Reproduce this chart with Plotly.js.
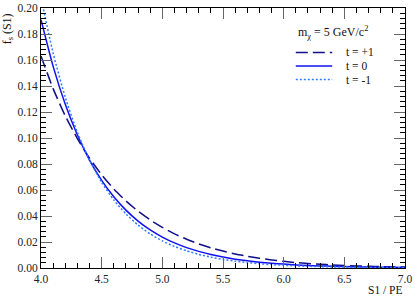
<!DOCTYPE html>
<html>
<head>
<meta charset="utf-8">
<script src="https://cdn.plot.ly/plotly-3.0.1.min.js"></script>
<style>html,body{margin:0;padding:0;background:#fff;}#chart{width:415px;height:298px;}</style>
</head>
<body>
<div id="chart"></div>
<script>
// S1 / PE grid
const s1 = [4.0,4.1,4.2,4.3,4.4,4.5,4.6,4.7,4.8,4.9,5.0,5.1,5.2,5.3,5.4,5.5,5.6,5.7,5.8,5.9,6.0,6.1,6.2,6.3,6.4,6.5,6.6,6.7,6.8,6.9,7.0];
// t = +1 (dashed)
const tPlus1 = [0.163,0.138,0.117,0.0995,0.0845,0.0717,0.0608,0.0516,0.0437,0.0370,0.0313,0.0263,0.0221,0.0185,0.0155,0.0130,0.0108,0.0090,0.0075,0.0062,0.0051,0.0042,0.0035,0.0029,0.0024,0.0020,0.0016,0.0013,0.0011,0.0009,0.0007];
// t = 0 (solid)
const tZero = [0.191,0.1551,0.1259,0.1023,0.0830,0.0674,0.0548,0.0445,0.0361,0.0293,0.0238,0.0193,0.0157,0.0128,0.0104,0.0084,0.0068,0.0055,0.0045,0.0037,0.0030,0.0024,0.0020,0.0016,0.0013,0.0011,0.0009,0.0007,0.0006,0.0005,0.0004];
// t = -1 (dotted)
const tMinus1 = [0.208,0.1653,0.1313,0.1043,0.0829,0.0659,0.0523,0.0416,0.0330,0.0262,0.0208,0.0166,0.0132,0.0105,0.0083,0.0066,0.0052,0.0042,0.0033,0.0026,0.0021,0.0017,0.0013,0.0011,0.0008,0.0007,0.0005,0.0004,0.0003,0.0003,0.0002];

const seriesNames = ["t = +1", "t = 0", "t = -1"];
const seriesColors = ["#10108a", "#1010f0", "#2f7bff"];
const seriesDash = ["12px,5px", "solid", "2px,2px"];
const seriesData = [tPlus1, tZero, tMinus1];

const traces = seriesData.map((ys, i) => ({
  type: "scatter", mode: "lines", x: s1, y: ys, name: seriesNames[i],
  line: {color: seriesColors[i], width: 1.5, dash: seriesDash[i], shape: "spline", smoothing: 0.6},
  showlegend: false
}));

const font = {family: "Liberation Serif, Times New Roman, serif", size: 11.5, color: "#222"};

// manual legend (compact row spacing like the original)
const legY = [0.829, 0.777, 0.725];
const shapes = [];
const annotations = [];
seriesNames.forEach((n, i) => {
  shapes.push({type: "line", xref: "paper", yref: "paper", x0: 0.7, x1: 0.80, y0: legY[i], y1: legY[i],
    line: {color: seriesColors[i], width: 1.5, dash: seriesDash[i]}});
  annotations.push({xref: "paper", yref: "paper", x: 0.833, y: legY[i], xanchor: "left", yanchor: "middle",
    text: n, showarrow: false, font: {family: font.family, size: 11.5, color: "#111"}});
});
annotations.push({xref: "paper", yref: "paper", x: 0.7, y: 0.905, xanchor: "left", yanchor: "middle",
  text: "m<sub>χ</sub> = 5 GeV/c<sup>2</sup>", showarrow: false, font: {family: font.family, size: 12, color: "#111"}});
annotations.push({xref: "paper", yref: "paper", x: -0.092, y: 0.92, xanchor: "center", yanchor: "middle",
  textangle: -90, text: "f<sub>s</sub> (S1)", showarrow: false, font: {family: font.family, size: 12, color: "#111"}});
annotations.push({xref: "paper", yref: "paper", x: 1.0, y: -0.085, xanchor: "right", yanchor: "middle",
  text: "S1 / PE", showarrow: false, font: {family: font.family, size: 11.5, color: "#111"}});

const layout = {
  width: 415, height: 298,
  margin: {l: 41, r: 10, t: 8, b: 30},
  paper_bgcolor: "#fff", plot_bgcolor: "#fff",
  font: font,
  showlegend: false,
  xaxis: {
    range: [4.0, 7.0], dtick: 0.5, tick0: 4.0, tickformat: ".1f",
    showgrid: false, zeroline: false, showline: true, linecolor: "#000", linewidth: 1,
    mirror: "ticks", ticks: "inside", ticklen: 11, tickcolor: "#666", tickwidth: 1,
    minor: {dtick: 0.1, ticks: "inside", ticklen: 5, tickcolor: "#000", tickwidth: 1, showgrid: false},
    tickfont: font
  },
  yaxis: {
    range: [0, 0.2], dtick: 0.02, tick0: 0, tickformat: ".2f",
    showgrid: false, zeroline: false, showline: true, linecolor: "#000", linewidth: 1,
    mirror: "ticks", ticks: "inside", ticklen: 11, tickcolor: "#666", tickwidth: 1,
    minor: {dtick: 0.004, ticks: "inside", ticklen: 5, tickcolor: "#000", tickwidth: 1, showgrid: false},
    tickfont: font
  },
  shapes: shapes,
  annotations: annotations
};

Plotly.newPlot("chart", traces, layout, {displayModeBar: false, staticPlot: true});
</script>
</body>
</html>
